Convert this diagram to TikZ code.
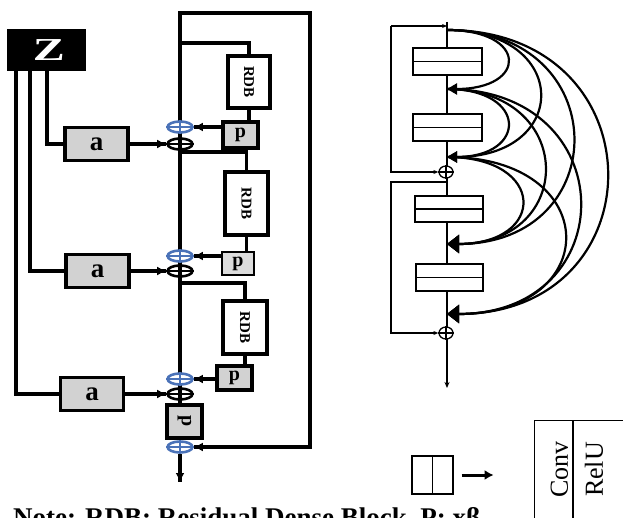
\documentclass[tikz,border=0pt]{standalone}
\usepackage{fontspec}
\setmainfont{Liberation Serif}
\usetikzlibrary{arrows.meta,shapes.geometric}
\definecolor{boxgray}{HTML}{D2D2D2}
\definecolor{lightgray}{HTML}{DCDCDC}
\definecolor{plusblue}{HTML}{4A72B8}
\begin{document}
\begin{tikzpicture}[x=1pt,y=-1pt,
  thk/.style={line width=3.1pt},
  conarrow/.style={line width=3pt,-{Latex[length=9pt,width=9pt]}},
  zbox/.style={fill=black,draw=black,minimum width=78pt,minimum height=41pt,inner sep=0pt,text=white,font=\fontsize{32}{32}\selectfont\bfseries},
  abox/.style={draw,line width=3.1pt,fill=boxgray,minimum width=63pt,minimum height=33pt,inner sep=0pt,font=\fontsize{27}{27}\selectfont\bfseries},
  rdbbox/.style={draw,line width=3.1pt,fill=white,inner sep=0pt,font=\fontsize{15}{15}\selectfont\bfseries},
  pbox/.style={draw,line width=3.1pt,fill=boxgray,inner sep=0pt,font=\fontsize{20}{20}\selectfont\bfseries},
  blueplus/.style={ellipse,draw=plusblue,line width=2.6pt,fill=white,minimum width=25pt,minimum height=11pt,inner sep=0pt},
  blackplus/.style={ellipse,draw=black,line width=2.6pt,minimum width=25pt,minimum height=11pt,inner sep=0pt},
  bluecross/.style={draw=plusblue,line width=2.4pt},
  rline/.style={line width=1.6pt},
  rbox/.style={draw,line width=1.3pt,fill=white,minimum width=69pt,minimum height=27pt,inner sep=0pt},
  rplus/.style={ellipse,draw,line width=1.3pt,fill=white,minimum width=14pt,minimum height=12pt,inner sep=0pt},
  arc/.style={line width=2.2pt,-{Triangle[length=10pt,width=11pt]}},
  bigarc/.style={line width=2.2pt,-{Triangle[length=12pt,width=18pt]}},
  note/.style={font=\fontsize{27}{27}\selectfont\bfseries,inner sep=0pt,anchor=base west}
]
\useasboundingbox (0,0) rectangle (623,518);

% ---------------- left diagram ----------------
\coordinate (top) at (180,13);
\coordinate (tr) at (310,13);
\coordinate (m1) at (180,43);
\coordinate (m2) at (180,152);
\coordinate (m3) at (180,283);
\coordinate (out) at (180,482);

\node[blueplus] (bl4) at (180,447) {};
% main line and outer loop
\draw[thk] (top) -- (bl4.north);
\draw[thk] (bl4.north) -- (top) -- (tr) -- (tr |- bl4) -- (bl4.east);
\draw[conarrow] (tr |- bl4) -- (bl4.east);

\node[zbox] (z) at (46,50) {\hspace*{6pt}\scalebox{1.5}[1]{Z}};
\node[abox] (a1) at (96.5,144) {a};
\node[abox] (a2) at (97.5,271) {a};
\node[abox] (a3) at (92,394) {a};

\node[rdbbox,minimum width=42pt,minimum height=52pt] (r1) at (249,82) {\rotatebox{-90}{RDB}};
\node[rdbbox,minimum width=43pt,minimum height=63pt] (r2) at (246.5,203.5) {\rotatebox{-90}{RDB}};
\node[rdbbox,minimum width=44pt,minimum height=53pt] (r3) at (245,327.5) {\rotatebox{-90}{RDB}};

\node[pbox,minimum width=35pt,minimum height=26pt] (p1) at (240.5,135) {p};
\node[pbox,line width=1.8pt,fill=lightgray,minimum width=32pt,minimum height=23pt] (p2) at (238,263.5) {p};
\node[pbox,minimum width=35pt,minimum height=24pt] (p3) at (234.5,378) {p};
\node[pbox,minimum width=35pt,minimum height=33pt] (p4) at (184.5,421.5) {\rotatebox{-90}{p}};

\node[blueplus] (bl1) at (180,127) {};
\node[blackplus] (bk1) at (180,144) {};
\node[blueplus] (bl2) at (180,256) {};
\node[blackplus] (bk2) at (180,271) {};
\node[blueplus] (bl3) at (180,379) {};
\node[blackplus] (bk3) at (180,394) {};

\foreach \n in {bl1,bl2,bl3,bl4}{
  \draw[bluecross] (\n.west) -- (\n.east) (\n.north) -- (\n.south);
}
\foreach \n in {bk1,bk2,bk3}{
  \draw[line width=2.4pt] (\n.west) -- (\n.east);
}

% inputs from Z
\draw[thk] ([xshift=1pt]z.south) |- (a1.west);
\draw[thk] ([xshift=-16pt]z.south) |- (a2.west);
\draw[thk] ([xshift=-30pt]z.south) |- (a3.west);
\draw[thk] (a1.east) -- (bk1.west);
\draw[thk] (a2.east) -- (bk2.west);
\draw[thk] (a3.east) -- (bk3.west);
\draw[conarrow] (a1.east) -- (bk1.west);
\draw[conarrow] (a2.east) -- (bk2.west);
\draw[conarrow] (a3.east) -- (bk3.west);

% RDB branches
\draw[thk] (m1) -| (r1.north);
\draw[thk] (m2) -| (r2.north);
\draw[thk] (m3) -| (r3.north);
\draw[thk] (r1.south) -- (r1.south |- p1.north);
\draw[thk] (r2.south) -- (r2.south |- p2.north);
\draw[thk] (r3.south) -- (r3.south |- p3.north);
\draw[thk] (p1.west |- bl1) -- (bl1.east);
\draw[thk] (p2.west |- bl2) -- (bl2.east);
\draw[thk] (p3.west |- bl3) -- (bl3.east);
\draw[conarrow] (p1.west |- bl1) -- (bl1.east);
\draw[conarrow] (p2.west |- bl2) -- (bl2.east);
\draw[conarrow] (p3.west |- bl3) -- (bl3.east);

% output
\draw[thk] (bl4.south) -- (out);
\draw[conarrow] (bl4.south) -- (out);

% ---------------- right diagram ----------------
\coordinate (rtop) at (447,22);
\coordinate (rin) at (447,26);
\coordinate (lc1) at (391,26);
\coordinate (s2) at (447,182);
\coordinate (lc2) at (391,182);
\coordinate (rend) at (447,388);
\coordinate (n0) at (447,30);
\coordinate (n1) at (447,89);
\coordinate (n2) at (447,157);
\coordinate (n3) at (447,244);
\coordinate (n4) at (447,314);

\draw[rline,-{Stealth[length=6pt,width=5pt]}] (rtop) -- (rend);

\node[rbox] (b1) at (447.5,61.5) {};
\node[rbox] (b2) at (447.5,127.5) {};
\node[rbox,minimum width=68pt,minimum height=26pt] (b3) at (449,209) {};
\node[rbox,minimum width=67pt] (b4) at (449.5,277.5) {};
\foreach \b in {b1,b2,b3,b4}{
  \draw[line width=1.3pt] (\b.west) -- (\b.east);
}

\node[rplus] (o1) at (446,172) {};
\node[rplus] (o2) at (446,333) {};
\foreach \n in {o1,o2}{
  \draw[line width=1.3pt] (\n.west) -- (\n.east) (\n.north) -- (\n.south);
}

\draw[rline,-{Stealth[length=5pt,width=4pt]}] (lc1) -- (rin);
\draw[rline,-{Stealth[length=5pt,width=4pt]}] (lc1) |- (o1.west);
\draw[rline,-{Stealth[length=5pt,width=4pt]}] (s2) -- (lc2) |- (o2.west);

% dense connections
\draw[arc] (n0) to[out=0,in=0,distance=81pt] (n1);
\draw[arc] (n1) to[out=0,in=0,distance=81pt] (n2);
\draw[arc] (n0) to[out=0,in=0,distance=124pt] (n2);
\draw[bigarc] (n2) to[out=0,in=0,distance=100pt] (n3);
\draw[bigarc] (n1) to[out=0,in=0,distance=130pt] (n3);
\draw[bigarc] (n0) to[out=0,in=0,distance=168pt] (n3);
\draw[bigarc] (n2) to[out=0,in=0,distance=157pt] (n4);
\draw[bigarc] (n1) to[out=0,in=0,distance=177pt] (n4);
\draw[bigarc] (n0) to[out=0,in=0,distance=213pt] (n4);

% ---------------- legend ----------------
\node[draw,line width=1.3pt,minimum width=41pt,minimum height=38pt,inner sep=0pt] (lb) at (432.5,475) {};
\draw[line width=1.3pt] (lb.north) -- (lb.south);
\draw[line width=3pt,-{Latex[length=9pt,width=10pt]}] ([xshift=8pt]lb.east) -- ([xshift=40pt]lb.east);

\node[draw,line width=1.3pt,minimum width=106pt,minimum height=110pt,inner sep=0pt,anchor=north west] (big) at (534,420) {};
\draw[line width=1.3pt] (573,420) -- (573,530);
\node[font=\fontsize{26}{26}\selectfont,inner sep=0pt] (conv) at (559.5,469.5) {\rotatebox{90}{Conv}};
\node[font=\fontsize{26}{26}\selectfont,inner sep=0pt] (relu) at (594,469.5) {\rotatebox{90}{RelU}};

% ---------------- note ----------------
\node[note] (nt) at (13,526) {Note: RDB: Residual Dense Block, P: xβ};
\end{tikzpicture}
\end{document}
